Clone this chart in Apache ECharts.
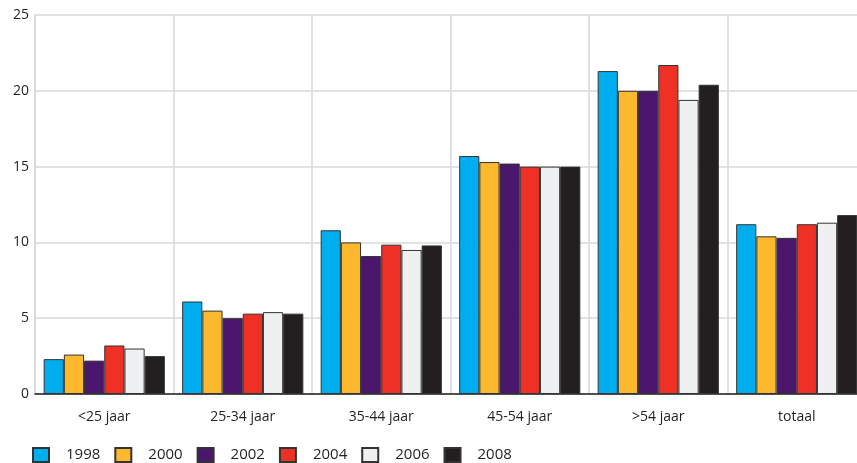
<!DOCTYPE html>
<html>
<head>
<meta charset="utf-8">
<script src="https://cdn.jsdelivr.net/npm/echarts@6/dist/echarts.min.js"></script>
<style>html,body{margin:0;padding:0;background:#fff;}#c{width:857px;height:463px;}</style>
</head>
<body>
<div id="c"></div>
<script>
const categories = ['<25 jaar', '25-34 jaar', '35-44 jaar', '45-54 jaar', '>54 jaar', 'totaal'];
const years = ['1998', '2000', '2002', '2004', '2006', '2008'];
const v1998 = [2.3, 6.1, 10.8, 15.7, 21.3, 11.2];
const v2000 = [2.6, 5.5, 10.0, 15.3, 20.0, 10.4];
const v2002 = [2.2, 5.0, 9.1, 15.2, 20.0, 10.3];
const v2004 = [3.2, 5.3, 9.85, 15.0, 21.7, 11.2];
const v2006 = [3.0, 5.4, 9.5, 15.0, 19.4, 11.3];
const v2008 = [2.5, 5.3, 9.8, 15.0, 20.4, 11.8];
const yTicks = [0, 5, 10, 15, 20, 25];

const seriesValues = [v1998, v2000, v2002, v2004, v2006, v2008];
const colors = ['#00AEEF', '#FDB92E', '#4A176C', '#EE3124', '#EEF0F2', '#231F20'];
const FONT = '"Open Sans", "Noto Sans", sans-serif';

const chart = echarts.init(document.getElementById('c'), null, {renderer: 'canvas'});
chart.setOption({
  animation: false,
  backgroundColor: '#ffffff',
  textStyle: {fontFamily: FONT, color: '#231F20'},
  legend: {
    left: 32, top: 447, padding: 0,
    itemWidth: 16, itemHeight: 14, itemGap: 14,
    icon: 'rect',
    textStyle: {fontFamily: FONT, fontSize: 15, color: '#231F20', padding: [0, 0, 0, 12]},
    data: years
  },
  grid: {left: 35, top: 15, right: -9, bottom: 69, containLabel: false, outerBoundsMode: 'none'},
  xAxis: {
    type: 'category',
    data: categories,
    axisLine: {lineStyle: {color: '#231F20', width: 1.5}},
    axisTick: {alignWithLabel: true, length: 6, lineStyle: {color: '#555', width: 1.5}},
    axisLabel: {fontFamily: FONT, fontSize: 14, color: '#231F20', margin: 16},
    splitLine: {show: true, lineStyle: {color: '#d9d9d9', width: 1.5}}
  },
  yAxis: {
    type: 'value',
    min: yTicks[0], max: yTicks[yTicks.length - 1], interval: 5,
    axisLine: {show: true, lineStyle: {color: '#d9d9d9', width: 1.5}},
    axisTick: {show: false},
    axisLabel: {fontFamily: FONT, fontSize: 14, color: '#231F20', margin: 6},
    splitLine: {lineStyle: {color: '#d9d9d9', width: 1.5}}
  },
  series: years.map((y, i) => ({
    name: y,
    type: 'bar',
    data: seriesValues[i],
    barGap: '0%',
    barCategoryGap: '12.5%',
    itemStyle: {color: colors[i], borderColor: '#333333', borderWidth: 1}
  }))
});
</script>
</body>
</html>
